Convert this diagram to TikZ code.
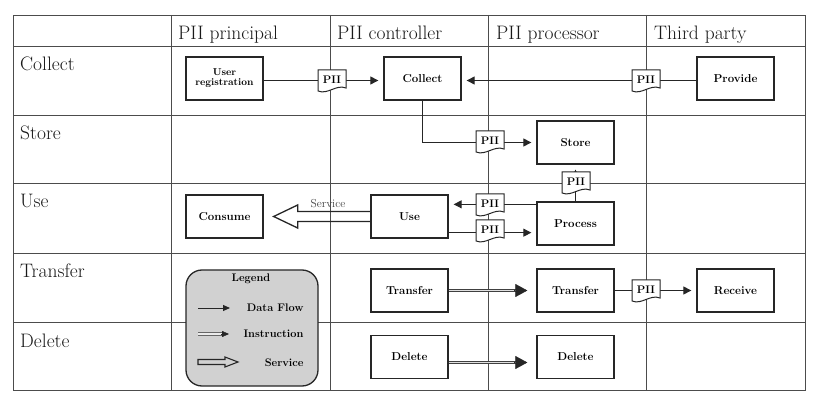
\documentclass[tikz,border=0pt]{standalone}
\usetikzlibrary{arrows.meta,calc}
\tikzset{
  grid/.style={draw=black!70, line width=0.8pt},
  hdr/.style={anchor=base west, font=\fontsize{19.5}{22}\selectfont, text=black!90, inner xsep=0pt},
  box/.style={draw=black!85, line width=1.3pt, fill=white, minimum width=77pt, minimum height=43pt,
    inner sep=0pt, align=center, font=\fontsize{11.5}{9}\selectfont\bfseries},
  flow/.style={draw=black!85, line width=1pt, -{Triangle[length=8pt,width=8pt]}, shorten >=5pt},
  instr/.style={draw=black!75, line width=0.8pt, double=black!12, double distance=1.6pt},
  instrhead/.style={draw=black!85, line width=0.4pt, -{Triangle[length=12pt,width=13pt]}},
  docline/.style={draw=black!85, line width=1pt, fill=white},
  pii/.style={font=\fontsize{11}{12}\selectfont\bfseries, inner sep=0pt},
  lgtxt/.style={anchor=base east, font=\fontsize{11}{12}\selectfont\bfseries},
}
\newcommand\piidoc[3]{%
  \draw[docline] (#2-14,#3-11) -- (#2+14,#3-11) -- (#2+14,#3+7)
     .. controls (#2+4,#3+3) and (#2-4,#3+14) .. (#2-14,#3+10) -- cycle;
  \node[pii] (#1) at (#2,#3-1) {PII};
}
\begin{document}
\begin{tikzpicture}[x=1pt,y=-1pt]
\useasboundingbox (0,0) rectangle (817,406);
% grid
\draw[grid] (13,15) rectangle (805,390);
\foreach \cx in {171,330,488,646} \draw[grid] (\cx,15) -- (\cx,390);
\foreach \ry in {46,115,183,253,322} \draw[grid] (13,\ry) -- (805,\ry);
% headers
\node[hdr] (h1) at (178,40) {PII principal};
\node[hdr] (h2) at (337,40) {PII controller};
\node[hdr] (h3) at (496,40) {PII processor};
\node[hdr] (h4) at (654,40) {Third party};
\node[hdr] (r1) at (20,71) {Collect};
\node[hdr] (r2) at (20,140) {Store};
\node[hdr] (r3) at (20,208) {Use};
\node[hdr] (r4) at (20,278) {Transfer};
\node[hdr] (r5) at (20,347) {Delete};
% boxes
\node[box, font=\fontsize{10}{10}\selectfont\bfseries] (userreg) at (224.5,78.5) {User\\registration};
\node[box] (collectc) at (422.5,78.5) {Collect};
\node[box] (provide) at (735.5,78.5) {Provide};
\node[box] (store) at (575.5,142.5) {Store};
\node[box] (consume) at (224.5,216.5) {Consume};
\node[box] (usec) at (409.5,216.5) {Use};
\node[box] (process) at (575.5,223.5) {Process};
\node[box] (transc) at (409.5,290.5) {Transfer};
\node[box] (transp) at (575.5,290.5) {Transfer};
\node[box] (receive) at (735.5,290.5) {Receive};
\node[box] (delc) at (409.5,357) {Delete};
\node[box] (delp) at (575.5,357) {Delete};
% data flows
\draw[flow] ($(userreg.east)+(0,2)$) -- ($(collectc.west)+(0,2)$);
\draw[flow] ($(provide.west)+(0,2)$) -- ($(collectc.east)+(0,2)$);
\draw[flow] (collectc.south) |- (store.west);
\draw[flow] (process) -- (store);
\draw[flow] ($(process.north west)+(0,3)$) -- ($(usec.north east)+(0,10)$);
\draw[flow] ($(usec.south east)+(0,-6)$) -- ($(process.south west)+(0,-13)$);
\draw[flow] (transp) -- (receive);
% instructions
\draw[instr] (transc.east) -- ($(transp.west)+(-20,0)$);
\draw[instrhead, shorten >=9pt] ($(transp.west)+(-22,0)$) -- (transp.west);
\draw[instr] ($(delc.east)+(0,5.5)$) -- ($(delp.west)+(-20,5.5)$);
\draw[instrhead, shorten >=9pt] ($(delp.west)+(-22,5.5)$) -- ($(delp.west)+(0,5.5)$);
% service
\draw[draw=black!85, line width=1.3pt, line join=miter]
  ($(usec.west)+(0,-5)$) -- ($(consume.east)+(34,-5)$) -- ($(consume.east)+(34,-11.5)$)
  -- ($(consume.east)+(10,0)$) -- ($(consume.east)+(34,11.5)$) -- ($(consume.east)+(34,5)$)
  -- ($(usec.west)+(0,5)$);
\node[anchor=base, font=\fontsize{11.5}{12}\selectfont, text=black!75] (svclbl) at (328,207.5) {Service};
% PII documents
\piidoc{pii1}{332}{81}
\piidoc{pii2}{646}{81}
\piidoc{pii3}{490}{142}
\piidoc{pii4}{576}{183}
\piidoc{pii5}{490}{205}
\piidoc{pii6}{490}{231}
\piidoc{pii7}{646}{291}
% legend
\node[draw=black!85, line width=1.3pt, fill=black!18, rounded corners=16pt,
  minimum width=132pt, minimum height=116pt] (legend) at (252,328) {};
\node[anchor=base, font=\fontsize{11}{12}\selectfont\bfseries] (lgtitle) at (251,281) {Legend};
\coordinate (ld1) at (198,308); \coordinate (ld2) at (230,308);
\draw[draw=black!85, line width=1pt, -{Triangle[length=7pt,width=6pt]}] (ld1) -- (ld2);
\node[lgtxt] (lgdf) at (307,312) {Data Flow};
\coordinate (li1) at (198,334); \coordinate (li2) at (222,334); \coordinate (li3) at (229,334);
\draw[draw=black!60, line width=0.9pt, double=black!8, double distance=1.4pt] (li1) -- (li2);
\draw[draw=black!85, line width=0.4pt, -{Triangle[length=7pt,width=6pt]}] ($(li2)+(-1,0)$) -- (li3);
\node[lgtxt] (lgin) at (307,337) {Instruction};
\coordinate (ls1) at (198,362);
\draw[draw=black!85, line width=1.1pt, line join=miter]
  ($(ls1)+(0,-2.5)$) -- ($(ls1)+(27,-2.5)$) -- ($(ls1)+(27,-5)$) -- ($(ls1)+(40,0)$)
  -- ($(ls1)+(27,5)$) -- ($(ls1)+(27,2.5)$) -- ($(ls1)+(0,2.5)$) -- cycle;
\node[lgtxt] (lgsv) at (307,366.5) {Service};
\end{tikzpicture}
\end{document}
